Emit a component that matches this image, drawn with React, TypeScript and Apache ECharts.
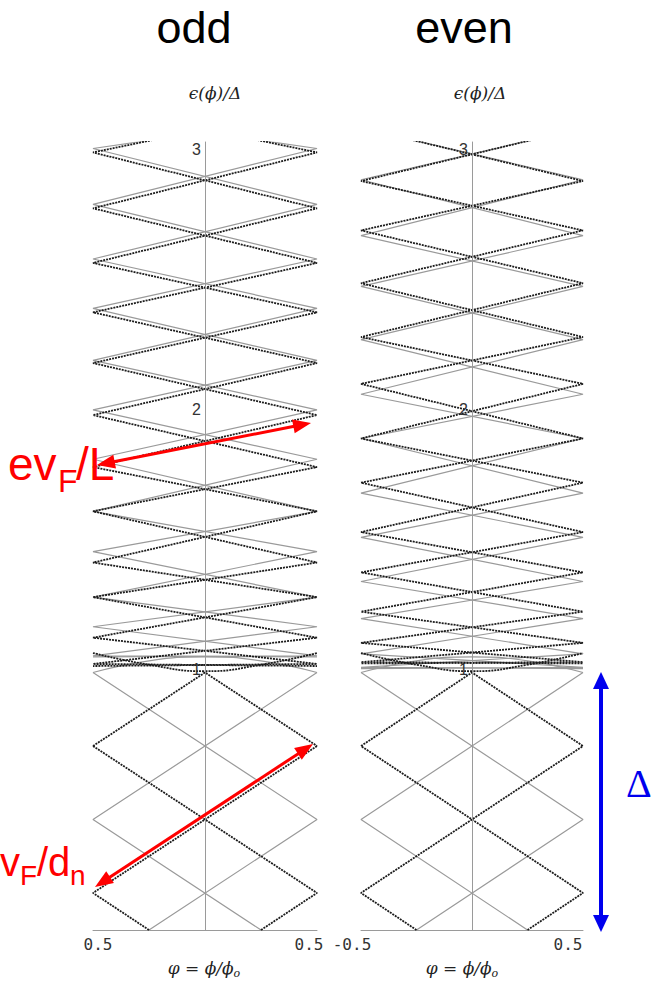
import React, { useEffect, useRef } from 'react';
import * as echarts from 'echarts';

// ---------- data ----------
// x axis: flux phase, y axis: energy in units of the gap
const phiTicks = [-0.5, 0, 0.5];
const oddTickLabels = ['0.5', '', '0.5'];
const evenTickLabels = ['-0.5', '', '0.5'];
const energyTicks = [1, 2, 3];
const panelTitles = ['odd', 'even'];

// sub-gap diamond lattice levels (same in both panels)
const lowerLevels = [0, 0.1425, 0.425, 0.7075, 0.99];
const quarterPhi = 0.25;

// above-gap zigzags: first point (where the level enters at the top), then edge-vertex energies, alternating sides
const oddTop: [number, number] = [-0.22, 3.04];
const oddDark = [2.99, 2.775, 2.565, 2.375, 2.18, 1.98, 1.78, 1.61, 1.413, 1.28, 1.124, 1.023, 1.015];
const oddGray = [3.005, 2.79, 2.58, 2.39, 2.19, 2.0, 1.81, 1.61, 1.455, 1.28, 1.166, 1.054, 1.05];

const evenTop: [number, number] = [-0.28, 3.04];
const evenDark = [2.88, 2.69, 2.487, 2.28, 2.1, 1.89, 1.72, 1.53, 1.375, 1.224, 1.104, 1.03, 1.025];
const evenGray = [2.885, 2.67, 2.475, 2.27, 2.06, 1.89, 1.68, 1.51, 1.34, 1.197, 1.062, 1.01, 1.005];

// curved levels hugging the gap edge
const arcPhi = [-0.5, -0.25, 0, 0.25, 0.5];
const gapDarkArc = [1.065, 1.02, 0.995, 1.02, 1.065];
const gapGrayArc = [0.99, 1.035, 1.05, 1.035, 0.99];

// ---------- helpers ----------
type P = [number, number];
const zigzag = (start: P, edges: number[], firstSide: number): P[] => {
  const pts: P[] = [start];
  edges.forEach((v, i) => pts.push([(i % 2 === 0 ? firstSide : -firstSide) * 0.5, v]));
  return pts;
};
const mirror = (pts: P[]): P[] => pts.map(([x, y]) => [-x, y] as P);

const darkStyle = { color: '#1c1c1c', width: 1.8, type: [2, 1] as any };
const grayStyle = { color: '#9a9a9a', width: 1.2, type: 'solid' as any };

const line = (data: P[], style: any, idx: number, smooth: number | boolean = false) => ({
  type: 'line',
  data,
  xAxisIndex: idx,
  yAxisIndex: idx,
  showSymbol: false,
  symbol: 'none',
  smooth,
  silent: true,
  clip: true,
  z: style === darkStyle ? 3 : 2,
  lineStyle: style,
});

const panelSeries = (idx: number, top: P, dark: number[], gray: number[], side: number) => {
  const L = lowerLevels;
  const d1: P[] = [[-0.5, L[3]], [0, L[4]], [0.5, L[3]]];
  const d2: P[] = [[-quarterPhi, L[0]], [-0.5, L[1]], [0.5, L[3]]];
  const g1: P[] = [[quarterPhi, L[0]], [-0.5, L[2]], [0.5, L[4]]];
  const zd = zigzag(top, dark, side);
  const zg = zigzag(top, gray, side);
  const arcD = arcPhi.map((x, i) => [x, gapDarkArc[i]] as P);
  const arcG = arcPhi.map((x, i) => [x, gapGrayArc[i]] as P);
  return [
    line(zg, grayStyle, idx),
    line(mirror(zg), grayStyle, idx),
    line(g1, grayStyle, idx),
    line(mirror(g1), grayStyle, idx),
    line(arcG, grayStyle, idx, 0.5),
    line(zd, darkStyle, idx),
    line(mirror(zd), darkStyle, idx),
    line(d1, darkStyle, idx),
    line(d2, darkStyle, idx),
    line(mirror(d2), darkStyle, idx),
    line(arcD, darkStyle, idx, 0.5),
  ];
};

const arrow = (x1: number, y1: number, x2: number, y2: number, len: number, half: number, color: string, w: number) => {
  const dx = x2 - x1, dy = y2 - y1, d = Math.hypot(dx, dy);
  const ux = dx / d, uy = dy / d, px = -uy, py = ux;
  const head = (tx: number, ty: number, sx: number, sy: number) => ({
    type: 'polygon',
    shape: { points: [[tx, ty], [tx - sx * len + px * half, ty - sy * len + py * half], [tx - sx * len - px * half, ty - sy * len - py * half]] },
    style: { fill: color },
    z: 100,
  });
  return [
    { type: 'line', shape: { x1: x1 + ux * len * 0.8, y1: y1 + uy * len * 0.8, x2: x2 - ux * len * 0.8, y2: y2 - uy * len * 0.8 }, style: { stroke: color, lineWidth: w }, z: 100 },
    head(x2, y2, ux, uy),
    head(x1, y1, -ux, -uy),
  ];
};

const txt = (text: string, x: number, y: number, size: number, color: string, family: string, align = 'left', style = 'normal') => ({
  type: 'text',
  x,
  y,
  z: 101,
  style: { text, fontSize: size, fontFamily: family, fontStyle: style, fill: color, align, verticalAlign: 'middle' },
});

const mathName = (x: number, y: number) => ({
  type: 'text',
  x,
  y,
  z: 101,
  style: {
    text: '{a|φ = ϕ/ϕ}{b|o}',
    align: 'center',
    verticalAlign: 'middle',
    rich: {
      a: { fontSize: 17, fontFamily: 'DejaVu Serif', fontStyle: 'italic', fill: '#222', verticalAlign: 'bottom', padding: [0, 0, 3, 0] },
      b: { fontSize: 11, fontFamily: 'DejaVu Serif', fontStyle: 'italic', fill: '#222', verticalAlign: 'bottom' },
    },
  },
});

export default function App() {
  const ref = useRef<HTMLDivElement>(null);
  useEffect(() => {
    if (!ref.current) return;
    const chart = echarts.init(ref.current, undefined, { renderer: 'svg' });
    const grids = [
      { left: 93, top: 142, width: 224, height: 788 },
      { left: 361, top: 142, width: 222, height: 788 },
    ];
    const labelSets = [oddTickLabels, evenTickLabels];
    const richSets = [
      { l: { padding: [0, 0, 0, 10] }, r: { padding: [0, 16, 0, 0] } },
      { l: { padding: [0, 18, 0, 0] }, r: { padding: [0, 30, 0, 0] } },
    ];
    const xAxes = grids.map((_, i) => ({
      type: 'value',
      gridIndex: i,
      min: -0.5,
      max: 0.5,
      interval: 0.5,
      axisLine: { show: true, onZero: false, lineStyle: { color: '#9a9a9a', width: 1 } },
      axisTick: { show: false },
      splitLine: { show: false },
      axisLabel: {
        margin: 6,
        color: '#333',
        fontFamily: 'DejaVu Sans Mono',
        fontSize: 16,
        formatter: (v: number) => {
          const k = phiTicks.indexOf(v);
          const s = k >= 0 ? labelSets[i][k] : '';
          if (!s) return '';
          return k === 0 ? `{l|${s}}` : `{r|${s}}`;
        },
        rich: richSets[i],
      },
    }));
    const yAxes = grids.map((g, i) => ({
      type: 'value',
      gridIndex: i,
      min: 0,
      max: 3.03,
      interval: 1,
      offset: -g.width / 2,
      z: 20,
      axisLine: { show: true, onZero: false, lineStyle: { color: '#9a9a9a', width: 1 } },
      axisTick: { show: false },
      splitLine: { show: false },
      axisLabel: {
        margin: 4,
        color: '#333',
        fontFamily: 'Liberation Sans',
        fontSize: 16,
        formatter: (v: number) => (energyTicks.includes(v) ? String(v) : ''),
      },
    }));
    const series = [
      ...panelSeries(0, oddTop, oddDark, oddGray, -1),
      ...panelSeries(1, evenTop, evenDark, evenGray, 1),
    ];
    const graphic = [
      txt(panelTitles[0], 194, 27, 45, '#000', 'Liberation Sans', 'center'),
      txt(panelTitles[1], 464, 27, 45, '#000', 'Liberation Sans', 'center'),
      txt('ϵ(ϕ)/Δ', 215, 93, 17, '#222', 'DejaVu Serif', 'center', 'italic'),
      txt('ϵ(ϕ)/Δ', 480, 93, 17, '#222', 'DejaVu Serif', 'center', 'italic'),
      mathName(204, 969),
      mathName(462, 969),
      ...arrow(97, 465, 311, 423, 18, 7, '#ff0000', 3),
      ...arrow(95, 887, 313, 744, 18, 7, '#ff0000', 3),
      ...arrow(601, 672, 601, 932, 17, 8, '#0000ee', 4),
      txt('ev', 8, 464, 46, '#ff0000', 'Liberation Sans'),
      txt('F', 58, 481, 32, '#ff0000', 'Liberation Sans'),
      txt('/L', 76, 464, 46, '#ff0000', 'Liberation Sans'),
      txt('v', 0, 862, 40, '#ff0000', 'Liberation Sans'),
      txt('F', 20, 875, 28, '#ff0000', 'Liberation Sans'),
      txt('/d', 37, 862, 40, '#ff0000', 'Liberation Sans'),
      txt('n', 70, 875, 28, '#ff0000', 'Liberation Sans'),
      txt('Δ', 626, 783, 40, '#0000ee', 'Liberation Serif'),
    ];
    chart.setOption({
      animation: false,
      backgroundColor: '#fff',
      grid: grids,
      xAxis: xAxes,
      yAxis: yAxes,
      series,
      graphic,
    });
    return () => chart.dispose();
  }, []);
  return <div ref={ref} style={{ position: 'fixed', left: 0, top: 0, width: 652, height: 981, background: '#fff' }} />;
}
